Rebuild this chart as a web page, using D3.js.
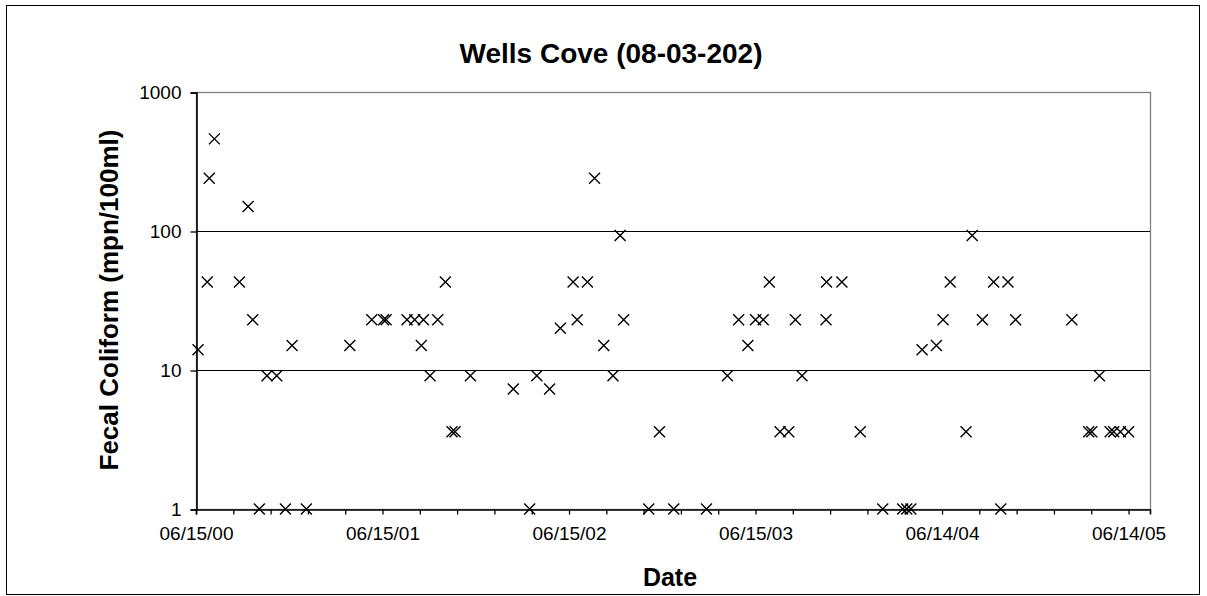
<!DOCTYPE html>
<html>
<head>
<meta charset="utf-8">
<script src="https://cdn.jsdelivr.net/npm/d3@7"></script>
<style>
    html, body { margin: 0; padding: 0; background: #fff; }
    svg text { font-family: Arial, "Liberation Sans", sans-serif; fill: #000; }
</style>
</head>
<body>
<div id="chart"></div>
<script>
// sample dates (mm/dd/yy) and fecal coliform counts
var SAMPLE_DATES = [
    "06/19/00","07/07/00","07/11/00","07/21/00","09/08/00","09/25/00","10/04/00","10/17/00","11/01/00","11/20/00",
    "12/07/00","12/20/00","01/17/01","04/12/01","05/25/01","06/17/01","06/22/01","08/02/01","08/17/01","08/30/01",
    "09/03/01","09/16/01","10/01/01","10/16/01","10/29/01","11/04/01","12/04/01",
    "02/26/02","03/30/02","04/13/02","05/08/02","05/29/02","06/23/02","07/01/02","07/21/02","08/04/02","08/22/02",
    "09/09/02","09/23/02","09/30/02","11/18/02","12/09/02","01/06/03","03/11/03","04/21/03","05/13/03","05/31/03",
    "06/15/03","06/30/03","07/12/03","08/02/03","08/19/03","09/01/03","09/14/03","10/31/03","11/01/03","12/01/03",
    "01/06/04","02/19/04","03/29/04","04/06/04","04/14/04","05/06/04","06/03/04","06/16/04","06/30/04","07/31/04",
    "08/12/04","09/01/04","09/23/04","10/07/04","10/21/04","11/05/04",
    "02/23/05","03/28/05","04/03/05","04/18/05","05/09/05","05/16/05","05/29/05","06/14/05"
];
var FECAL_COLIFORM = [
    14, 43, 240, 460, 43, 150, 23, 1, 9.1, 9.1,
    1, 15, 1, 15, 23, 23, 23, 23, 23, 15,
    23, 9.1, 23, 43, 3.6, 3.6, 9.1,
    7.3, 1, 9.1, 7.3, 20, 43, 23, 43, 240, 15,
    9.1, 93, 23, 1, 3.6, 1, 1, 9.1, 23, 15,
    23, 23, 43, 3.6, 3.6, 23, 9.1, 23, 43, 43,
    3.6, 1, 1, 1, 1, 14, 15, 23, 43, 3.6,
    93, 23, 43, 1, 43, 23,
    23, 3.6, 3.6, 9.1, 3.6, 3.6, 3.6, 3.6
];

// axes
var X_TICK_LABELS = ["06/15/00","06/15/01","06/15/02","06/15/03","06/14/04","06/14/05"];
var X_START = "06/15/00", X_END = "07/26/05";
var MINOR_STEP_DAYS = 73;   // tick mark every 73 days, label every 5th
var Y_TICKS = [1, 10, 100, 1000];

var TITLE = "Wells Cove (08-03-202)",
    X_TITLE = "Date",
    Y_TITLE = "Fecal Coliform (mpn/100ml)";

var WIDTH = 1207, HEIGHT = 596,
    PLOT_LEFT = 196, PLOT_RIGHT = 1150,
    PLOT_TOP = 92, PLOT_BOTTOM = 509,
    MARK = 5.5;   // half size of the x marker

var parse = d3.utcParse("%m/%d/%y");

var data = SAMPLE_DATES.map(function(d, i){
    return { date: parse(d), value: FECAL_COLIFORM[i] };
});

var svg = d3.select("#chart").append("svg")
    .attr("width", WIDTH)
    .attr("height", HEIGHT);

// outer frame
svg.append("rect")
    .attr("x", 6.5).attr("y", 5.5)
    .attr("width", 1193).attr("height", 589)
    .attr("fill", "#fff")
    .attr("stroke", "#000")
    .attr("stroke-width", 1);

var x = d3.scaleUtc()
    .domain([parse(X_START), parse(X_END)])
    .range([PLOT_LEFT, PLOT_RIGHT]);

var y = d3.scaleLog()
    .domain([1, 1000])
    .range([PLOT_BOTTOM, PLOT_TOP]);

// plot border: top and right in grey
svg.append("rect")
    .attr("x", PLOT_LEFT + 0.5).attr("y", PLOT_TOP + 0.5)
    .attr("width", PLOT_RIGHT - PLOT_LEFT).attr("height", PLOT_BOTTOM - PLOT_TOP)
    .attr("fill", "none")
    .attr("stroke", "#808080")
    .attr("stroke-width", 1.3);

// grid lines at 10 and 100
svg.append("g").selectAll("line")
    .data(Y_TICKS.filter(function(v){ return v > 1 && v < 1000; }))
    .enter().append("line")
    .attr("x1", PLOT_LEFT).attr("x2", PLOT_RIGHT)
    .attr("y1", function(d){ return Math.round(y(d)) + 0.5; })
    .attr("y2", function(d){ return Math.round(y(d)) + 0.5; })
    .attr("stroke", "#000")
    .attr("stroke-width", 1);

// y axis
var yAxis = d3.axisLeft(y)
    .tickValues(Y_TICKS)
    .tickFormat(d3.format("d"))
    .tickSize(6)
    .tickPadding(9);

var gy = svg.append("g")
    .attr("transform", "translate(" + (PLOT_LEFT + 0.5) + ",0.5)")
    .call(yAxis);
gy.select(".domain").attr("stroke", "#000").attr("stroke-width", 1.6);
gy.selectAll(".tick line").attr("stroke", "#000").attr("stroke-width", 1.3);
gy.selectAll(".tick text").style("font-size", "19px");

// x axis: minor tick marks, labels only on the yearly ones
var start = parse(X_START);
var tickDates = d3.range(0, 26).map(function(i){
    return d3.utcDay.offset(start, i * MINOR_STEP_DAYS);
});

var xAxis = d3.axisBottom(x)
    .tickValues(tickDates)
    .tickFormat(function(d, i){
        return (i % 5 === 0) ? X_TICK_LABELS[i / 5] : "";
    })
    .tickSize(5)
    .tickPadding(12);

var gx = svg.append("g")
    .attr("transform", "translate(0," + (PLOT_BOTTOM + 0.5) + ")")
    .call(xAxis);
gx.select(".domain").attr("stroke", "#000").attr("stroke-width", 1.6);
gx.selectAll(".tick line").attr("stroke", "#000").attr("stroke-width", 1.3);
gx.selectAll(".tick text").style("font-size", "19px");

// markers
svg.append("g")
    .selectAll("path")
    .data(data)
    .enter().append("path")
    .attr("transform", function(d){
        return "translate(" + x(d.date) + "," + y(d.value) + ")";
    })
    .attr("d", "M" + (-MARK) + "," + (-MARK) + "L" + MARK + "," + MARK +
               "M" + (-MARK) + "," + MARK + "L" + MARK + "," + (-MARK))
    .attr("stroke", "#000")
    .attr("stroke-width", 1.4)
    .attr("fill", "none");

// titles
svg.append("text")
    .attr("x", 611).attr("y", 63)
    .attr("text-anchor", "middle")
    .style("font-size", "28px")
    .style("font-weight", "bold")
    .text(TITLE);

svg.append("text")
    .attr("x", 670).attr("y", 586)
    .attr("text-anchor", "middle")
    .style("font-size", "25px")
    .style("font-weight", "bold")
    .text(X_TITLE);

svg.append("text")
    .attr("transform", "translate(118,300) rotate(-90)")
    .attr("text-anchor", "middle")
    .style("font-size", "26px")
    .style("font-weight", "bold")
    .text(Y_TITLE);
</script>
</body>
</html>
